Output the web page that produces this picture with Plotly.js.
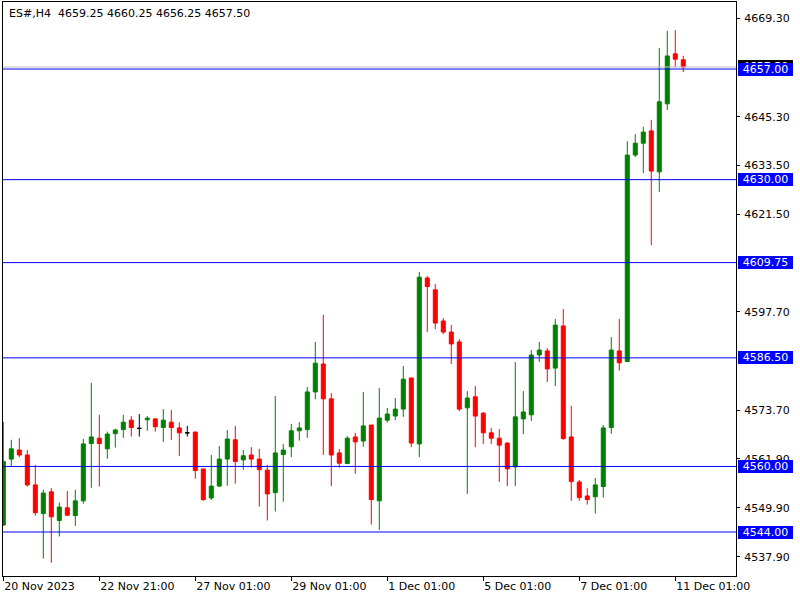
<!DOCTYPE html>
<html><head><meta charset="utf-8">
<script src="https://cdn.plot.ly/plotly-3.0.1.min.js"></script>
<style>html,body{margin:0;padding:0;background:#fff;} #chart{width:800px;height:600px;}</style>
</head><body><div id="chart"></div>
<script>
const symbolName = 'ES#';
const periodName = 'H4';
const openP = [4545.7,4561.8,4564.0,4562.8,4555.5,4548.5,4553.8,4546.8,4549.9,4548.0,
4551.6,4565.6,4566.9,4564.3,4568.0,4569.0,4571.3,4569.3,4571.4,4571.6,
4569.5,4570.8,4569.4,4568.2,4568.4,4559.4,4552.3,4555.2,4561.8,4566.5,
4561.6,4562.8,4561.8,4559.1,4553.6,4562.9,4564.8,4568.7,4569.0,4578.2,
4585.0,4576.5,4563.3,4560.7,4567.2,4566.2,4570.1,4551.6,4571.3,4572.3,
4574.0,4581.6,4565.5,4606.0,4603.1,4595.5,4592.8,4590.4,4574.3,4577.0,
4573.0,4568.2,4566.9,4565.7,4559.9,4571.6,4572.6,4587.2,4588.2,4584.0,
4594.3,4567.2,4556.2,4552.8,4552.6,4555.1,4569.5,4588.2,4585.6,4636.0,
4638.9,4641.9,4631.9,4648.5,4660.7,4659.25];
const highP = [4570.9,4566.5,4566.9,4564.0,4560.4,4554.3,4554.7,4551.2,4554.0,4554.3,
4566.7,4580.4,4572.6,4568.5,4569.2,4572.6,4572.3,4572.8,4572.3,4571.8,
4574.0,4573.8,4570.8,4569.9,4568.4,4559.4,4562.8,4565.0,4568.9,4569.9,
4564.0,4564.7,4564.3,4560.4,4577.2,4565.5,4570.4,4570.8,4579.4,4590.4,
4597.0,4577.9,4564.3,4567.4,4568.2,4578.2,4570.1,4579.1,4574.3,4576.7,
4584.5,4581.6,4607.5,4606.5,4604.5,4596.2,4594.5,4591.1,4578.4,4579.6,
4573.3,4569.4,4569.1,4565.9,4585.5,4578.4,4588.4,4590.4,4588.9,4596.0,
4598.4,4574.8,4556.7,4554.7,4557.2,4570.1,4591.6,4596.0,4639.4,4641.1,
4642.9,4644.6,4662.1,4666.3,4666.5,4660.25];
const lowP = [4545.5,4560.1,4562.3,4555.1,4548.0,4537.5,4536.5,4542.9,4548.0,4545.5,
4550.9,4554.8,4555.1,4561.9,4564.6,4567.0,4567.3,4567.3,4568.7,4568.5,
4566.0,4566.5,4562.6,4567.3,4557.0,4551.6,4551.8,4555.0,4555.3,4555.8,
4559.2,4559.7,4550.2,4546.8,4549.0,4551.4,4562.3,4566.3,4567.0,4576.4,
4562.8,4555.2,4559.7,4560.7,4558.2,4564.8,4545.8,4544.5,4570.7,4571.3,
4572.1,4564.7,4562.3,4592.8,4593.5,4592.3,4585.0,4573.5,4553.3,4564.7,
4565.5,4565.5,4556.2,4555.2,4555.2,4567.9,4571.1,4585.5,4580.6,4579.6,
4566.5,4551.6,4551.6,4550.7,4548.5,4552.4,4568.0,4583.4,4585.5,4635.5,
4631.6,4614.0,4627.0,4647.0,4657.5,4656.25];
const closeP = [4561.2,4564.3,4562.8,4555.5,4548.7,4553.5,4547.7,4550.1,4548.1,4551.6,
4565.5,4567.2,4565.6,4567.9,4568.9,4570.8,4569.5,4569.3,4571.8,4569.7,
4571.3,4569.5,4568.2,4568.2,4559.0,4551.9,4555.2,4561.8,4566.7,4561.2,
4562.6,4561.8,4559.2,4553.3,4563.3,4564.0,4568.7,4569.4,4578.2,4585.2,
4576.5,4562.8,4560.8,4566.9,4566.0,4569.9,4551.9,4571.8,4572.8,4574.0,
4581.3,4565.7,4606.2,4603.9,4595.0,4592.8,4589.9,4574.0,4576.7,4572.3,
4568.2,4566.9,4565.2,4559.4,4572.1,4573.3,4587.2,4588.4,4583.8,4594.5,
4566.8,4556.3,4552.4,4551.9,4555.5,4569.4,4588.4,4585.3,4636.0,4638.9,
4641.6,4632.1,4649.0,4660.2,4659.4,4657.50];
const xTickIdx = [0,12,24,36,48,60,72,84];
const xTickText = ['20 Nov 2023','22 Nov 21:00','27 Nov 01:00','29 Nov 01:00','1 Dec 01:00','5 Dec 01:00','7 Dec 01:00','11 Dec 01:00'];
const yTickVals = [4669.30,4645.30,4633.50,4621.50,4597.70,4573.70,4561.90,4549.90,4537.90];
const levels = [4657.00,4630.00,4609.75,4586.50,4560.00,4544.00];

const FONT = 'DejaVu Sans';
const idx = openP.map((_, i) => i);
const isDoji = i => openP[i] === closeP[i];
const mainIds = idx.filter(i => !isDoji(i));
const dojiIds = idx.filter(isDoji);
const pick = (arr, ids) => ids.map(i => arr[i]);

const mainTrace = {
  type: 'candlestick',
  x: mainIds, open: pick(openP, mainIds), high: pick(highP, mainIds),
  low: pick(lowP, mainIds), close: pick(closeP, mainIds),
  increasing: {line: {color: '#008000', width: 1}, fillcolor: '#008000'},
  decreasing: {line: {color: '#FF0000', width: 1}, fillcolor: '#FF0000'},
  whiskerwidth: 0, hoverinfo: 'skip'
};
const dojiTrace = {
  type: 'candlestick',
  x: dojiIds, open: pick(openP, dojiIds), high: pick(highP, dojiIds),
  low: pick(lowP, dojiIds), close: pick(closeP, dojiIds),
  increasing: {line: {color: '#000000', width: 1}, fillcolor: '#000000'},
  decreasing: {line: {color: '#000000', width: 1}, fillcolor: '#000000'},
  whiskerwidth: 0, hoverinfo: 'skip'
};

const n = openP.length;
const lastO = openP[n-1], lastH = highP[n-1], lastL = lowP[n-1], lastC = closeP[n-1];

const shapes = [{
  type: 'line', xref: 'paper', x0: 0, x1: 1, yref: 'y', y0: lastC, y1: lastC,
  line: {color: '#C0C0C0', width: 1}
}].concat(levels.map(v => ({
  type: 'line', xref: 'paper', x0: 0, x1: 1, yref: 'y', y0: v, y1: v,
  line: {color: '#0000FF', width: 1}
})));

const annotations = [{
  xref: 'paper', x: 0, xanchor: 'left', xshift: 4,
  yref: 'paper', y: 1, yanchor: 'top', yshift: -3,
  text: symbolName + ',' + periodName + '\u00A0\u00A0' + [lastO, lastH, lastL, lastC].map(v => v.toFixed(2)).join(' '),
  showarrow: false, font: {family: FONT, size: 11, color: '#000'}
}, {
  xref: 'paper', x: 1, xanchor: 'left', xshift: 2,
  yref: 'y', y: lastC, yanchor: 'middle',
  text: lastC.toFixed(2), showarrow: false,
  font: {family: FONT, size: 11, color: '#fff'},
  bgcolor: '#000000', borderpad: 0, borderwidth: 0, width: 55, height: 13, align: 'center'
}].concat(levels.map(v => ({
  xref: 'paper', x: 1, xanchor: 'left', xshift: 2,
  yref: 'y', y: v, yanchor: 'middle',
  text: v.toFixed(2), showarrow: false,
  font: {family: FONT, size: 11, color: '#fff'},
  bgcolor: '#0000FF', borderpad: 0, borderwidth: 0, width: 55, height: 13, align: 'center'
})));

const layout = {
  width: 800, height: 600,
  margin: {l: 3, r: 64, t: 2, b: 24, pad: 0},
  paper_bgcolor: '#fff', plot_bgcolor: '#fff',
  showlegend: false,
  boxgap: 0.5, boxgroupgap: 0,
  font: {family: FONT, size: 11, color: '#000'},
  xaxis: {
    type: 'linear', range: [-0.0375, 91.59],
    showgrid: false, zeroline: false,
    showline: true, mirror: true, linecolor: '#000', linewidth: 1,
    ticks: 'outside', ticklen: 4, tickcolor: '#000', tickwidth: 1,
    tickvals: xTickIdx, ticktext: xTickText,
    ticklabelposition: 'outside right',
    tickfont: {family: FONT, size: 11, color: '#000'},
    rangeslider: {visible: false}, fixedrange: true
  },
  yaxis: {
    side: 'right', range: [4533.26, 4673.36],
    showgrid: false, zeroline: false,
    showline: true, mirror: true, linecolor: '#000', linewidth: 1,
    ticks: 'outside', ticklen: 3, tickcolor: '#000', tickwidth: 1,
    ticklabelstandoff: 2,
    tickvals: yTickVals, ticktext: yTickVals.map(v => v.toFixed(2)),
    tickfont: {family: FONT, size: 11, color: '#000'},
    fixedrange: true
  },
  shapes: shapes,
  annotations: annotations
};

Plotly.newPlot('chart', [mainTrace, dojiTrace], layout, {displayModeBar: false, staticPlot: true});
</script>
</body></html>
